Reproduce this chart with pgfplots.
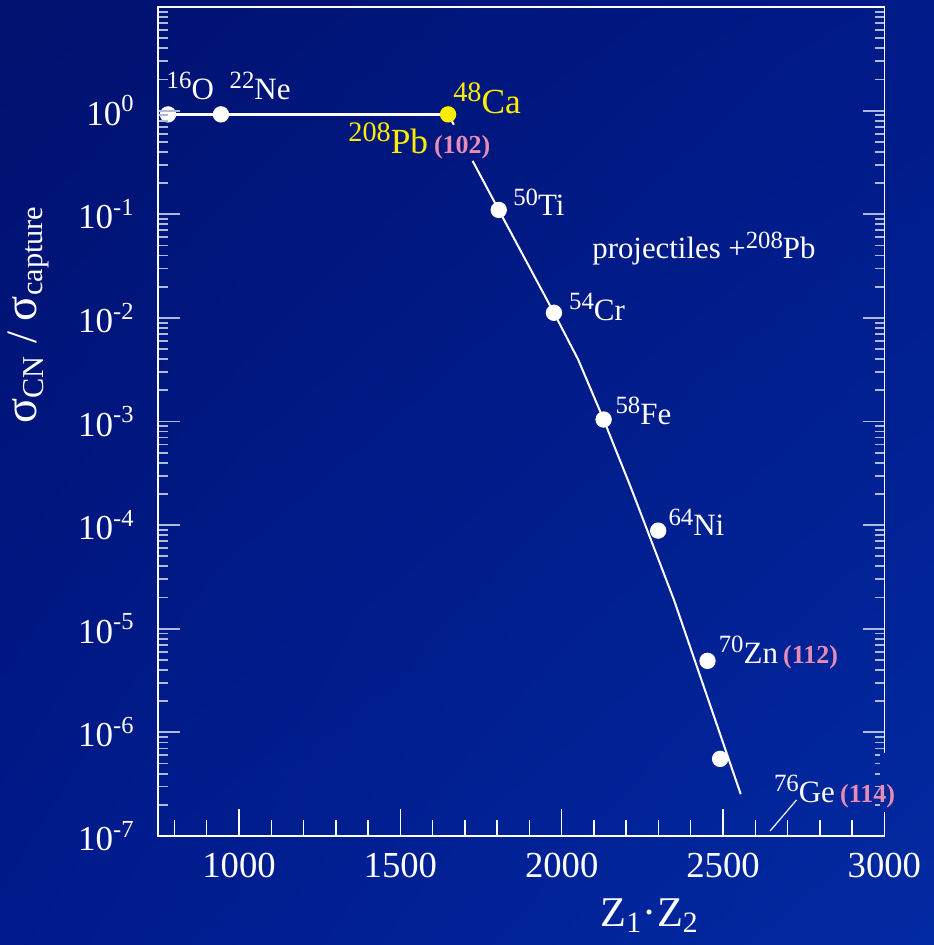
\documentclass[border=0pt]{standalone}
\usepackage{pgfplots}
\pgfplotsset{compat=1.18}
\usepackage{graphicx}
\usepackage{fontspec}
\setmainfont{Liberation Serif}
\usetikzlibrary{backgrounds,shadings}
\definecolor{bgUL}{RGB}{0,17,110}
\definecolor{bgUR}{RGB}{0,26,136}
\definecolor{bgLL}{RGB}{0,26,140}
\definecolor{bgLR}{RGB}{2,42,162}
\definecolor{gecol}{RGB}{2,38,156}
\definecolor{ticky}{RGB}{175,185,222}
\definecolor{pinkc}{RGB}{232,140,182}
\definecolor{yel}{RGB}{255,238,0}
\newcommand{\lab}{\fontsize{9.3}{11}\selectfont}
\newcommand{\labb}{\fontsize{10.6}{13}\selectfont}
\newcommand{\su}[1]{\raisebox{0.34em}{\scalebox{0.8}{#1}}}
\newcommand{\zz}[1]{{\color{pinkc}\bfseries\fontsize{7.8}{9}\selectfont(#1)}}
\begin{document}
\begin{tikzpicture}
% ---- axis with x ticks and the data
\begin{semilogyaxis}[
  at={(0,0)}, anchor=south west, scale only axis,
  width=217.8pt, height=248.7pt,
  xmin=750, xmax=3000, ymin=1e-7, ymax=10,
  axis line style={white, line width=0.5pt},
  tick align=inside, clip=false,
  xtick={1000,1500,2000,2500,3000},
  xticklabels={1000,1500,2000,2500,3000},
  minor xtick={800,900,1100,1200,1300,1400,1600,1700,1800,1900,2100,2200,2300,2400,2600,2700,2800,2900},
  xtick pos=left,
  ytick=\empty,
  major tick length=8pt, minor tick length=4.8pt,
  tick style={white, line width=0.45pt},
  xticklabel style={font=\fontsize{11}{13}\selectfont, text=white, yshift=-1.6pt},
]
% horizontal line O -> Ca
\addplot[white, line width=0.8pt] coordinates {(780,0.92) (1648,0.92)};
% stub from Ca
\addplot[white, line width=0.6pt] coordinates {(1648,0.92) (1666,0.73)};
% systematics curve
\addplot[white, line width=0.6pt] coordinates {
 (1724,0.327) (1805,0.110) (1976,0.0112) (2051,3.97e-3) (2130,1.045e-3)
 (2217,2.2e-4) (2348,1.9e-5) (2555,2.53e-7)};
% Ge pointer
\addplot[white, line width=0.35pt] coordinates {(2646,1.12e-7) (2728,2.23e-7)};
% measured points
\addplot[only marks, mark=*, mark size=2.25pt, mark options={fill=white, draw=white}] coordinates {
 (780,0.92) (944,0.92) (1805,0.110) (1976,0.0112) (2130,1.045e-3)
 (2299,8.85e-5) (2452,4.9e-6) (2491,5.55e-7)};
\addplot[only marks, mark=*, mark size=2.25pt, mark options={fill=yel, draw=yel}] coordinates {(1648,0.92)};
% labels
\node[anchor=base west, text=white, font=\lab, inner sep=0pt] at (axis cs:774,1.29) {\su{16}O};
\node[anchor=base west, text=white, font=\lab, inner sep=0pt] at (axis cs:969,1.29) {\su{22}Ne};
\node[anchor=base west, text=yel, font=\labb, inner sep=0pt] at (axis cs:1662,0.94) {\su{48}Ca};
\node[anchor=base west, text=yel, font=\labb, inner sep=0pt] at (axis cs:1337,0.386) {\su{208}Pb\,\zz{102}};
\node[anchor=base west, text=white, font=\lab, inner sep=0pt] at (axis cs:1848,0.0963) {\su{50}Ti};
\node[anchor=base west, text=white, font=\lab, inner sep=0pt] at (axis cs:2021,9.52e-3) {\su{54}Cr};
\node[anchor=base west, text=white, font=\lab, inner sep=0pt] at (axis cs:2165,9.35e-4) {\su{58}Fe};
\node[anchor=base west, text=white, font=\lab, inner sep=0pt] at (axis cs:2329,7.92e-5) {\su{64}Ni};
\node[anchor=base west, text=white, font=\lab, inner sep=0pt] at (axis cs:2485,4.67e-6) {\su{70}Zn\,\zz{112}};
\node[anchor=base west, text=white, font=\fontsize{9.25}{11}\selectfont, inner sep=0pt] at (axis cs:2093,0.0373) {projectiles +\su{208}Pb};
\end{semilogyaxis}
% ---- axis with y ticks
\begin{semilogyaxis}[
  at={(0,0)}, anchor=south west, scale only axis,
  width=217.8pt, height=248.7pt,
  xmin=750, xmax=3000, ymin=1e-7, ymax=10,
  axis line style={white, line width=0.5pt},
  tick align=inside, clip=false,
  xtick=\empty,
  ytick={1e-7,1e-6,1e-5,1e-4,1e-3,1e-2,1e-1,1},
  yticklabels={10\textsuperscript{-7},10\textsuperscript{-6},10\textsuperscript{-5},10\textsuperscript{-4},10\textsuperscript{-3},10\textsuperscript{-2},10\textsuperscript{-1},10\textsuperscript{0}},
  minor ytick={2e-7,3e-7,4e-7,5e-7,6e-7,7e-7,8e-7,9e-7,
    2e-6,3e-6,4e-6,5e-6,6e-6,7e-6,8e-6,9e-6,
    2e-5,3e-5,4e-5,5e-5,6e-5,7e-5,8e-5,9e-5,
    2e-4,3e-4,4e-4,5e-4,6e-4,7e-4,8e-4,9e-4,
    2e-3,3e-3,4e-3,5e-3,6e-3,7e-3,8e-3,9e-3,
    2e-2,3e-2,4e-2,5e-2,6e-2,7e-2,8e-2,9e-2,
    0.2,0.3,0.4,0.5,0.6,0.7,0.8,0.9,
    2,3,4,5,6,7,8,9},
  ytick pos=both, yticklabel pos=left,
  major tick length=6.5pt, minor tick length=2.8pt,
  tick style={ticky, line width=0.55pt},
  yticklabel style={font=\fontsize{10.5}{12}\selectfont, text=white, xshift=-3.4pt},
]
% the Ge label box hides a piece of the right axis line
\fill[gecol] (axis cs:2986,6.3e-7) rectangle (axis cs:3017,1.7e-7);
\node[anchor=base west, text=white, font=\lab, inner sep=0pt] at (axis cs:2656,2.11e-7) {\su{76}Ge\,\zz{114}};
\end{semilogyaxis}
% axis titles
\node[rotate=90, anchor=base, text=white, font=\fontsize{13}{15}\selectfont, inner sep=0pt] at (-36.4pt,156.5pt) {{\fontsize{14}{15}\selectfont σ}\textsubscript{CN} / {\fontsize{14}{15}\selectfont σ}\textsubscript{capture}};
\node[anchor=base, text=white, font=\fontsize{12.7}{15}\selectfont, inner sep=0pt] at (147.5pt,-27.2pt) {Z\textsubscript{1}·Z\textsubscript{2}};
% background
\begin{scope}[on background layer]
\shade[upper left=bgUL, upper right=bgUR, lower left=bgLL, lower right=bgLR] (-47.5pt,-32.7pt) rectangle (232.7pt,250.8pt);
\end{scope}
\pgfresetboundingbox
\path[use as bounding box] (-47.5pt,-32.7pt) rectangle (232.7pt,250.8pt);
\end{tikzpicture}
\end{document}
